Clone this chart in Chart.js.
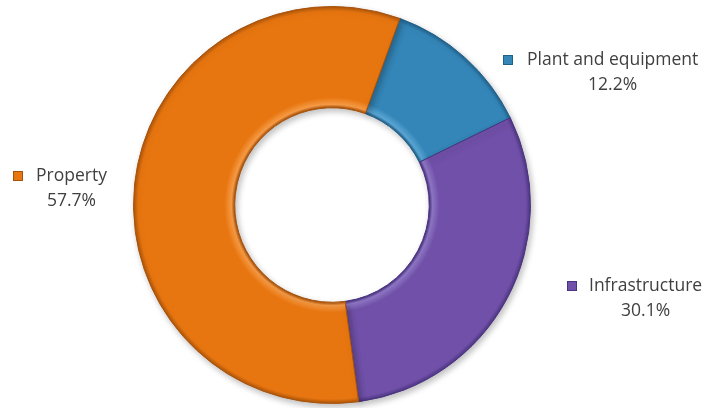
<!DOCTYPE html>
<html>
<head>
<meta charset="utf-8">
<script src="https://cdn.jsdelivr.net/npm/chart.js@4"></script>
<style>
    html, body { margin: 0; padding: 0; background: #ffffff; }
    #wrap { width: 711px; height: 408px; }
</style>
</head>
<body>
<div id="wrap"><canvas id="assetChart"></canvas></div>
<script>
const categories = ['Plant and equipment', 'Infrastructure', 'Property'];
const shares = [12.2, 30.1, 57.7];
const sliceColors = ['#3486b8', '#7050a8', '#e87610'];
const edgeColors = ['#1f5f8a', '#4a3380', '#a8520a'];
const highlightColors = ['#5aa6d4', '#9078c8', '#f59a45'];

// where each caption sits: marker left, text left, middle of the name line
const captionSpots = [
    { marker: 503, text: 527, y: 60 },
    { marker: 567, text: 589, y: 286 },
    { marker: 13, text: 36, y: 176 },
];

const CUTOUT = 0.49;

function ringGradient(context, i) {
    const chart = context.chart;
    const area = chart.chartArea;
    if (!area) return sliceColors[i];
    const cx = (area.left + area.right) / 2;
    const cy = (area.top + area.bottom) / 2;
    const r = Math.min(area.right - area.left, area.bottom - area.top) / 2;
    const g = chart.ctx.createRadialGradient(cx, cy, r * CUTOUT, cx, cy, r);
    g.addColorStop(0, edgeColors[i]);
    g.addColorStop(0.03, highlightColors[i]);
    g.addColorStop(0.1, sliceColors[i]);
    g.addColorStop(0.95, sliceColors[i]);
    g.addColorStop(1, edgeColors[i]);
    return g;
}

const softShadow = {
    id: 'softShadow',
    beforeDatasetsDraw(chart) {
        const ctx = chart.ctx;
        ctx.save();
        ctx.shadowColor = 'rgba(0, 0, 0, 0.25)';
        ctx.shadowBlur = 6;
        ctx.shadowOffsetX = 2;
        ctx.shadowOffsetY = 3;
    },
    afterDatasetsDraw(chart) {
        chart.ctx.restore();
    },
};

const captions = {
    id: 'captions',
    afterDraw(chart) {
        const ctx = chart.ctx;
        ctx.save();
        ctx.font = '17.5px "Open Sans", sans-serif';
        ctx.textBaseline = 'middle';
        categories.forEach((name, i) => {
            const spot = captionSpots[i];
            // small square marker
            ctx.fillStyle = sliceColors[i];
            ctx.strokeStyle = edgeColors[i];
            ctx.lineWidth = 1;
            ctx.fillRect(spot.marker, spot.y - 5, 10, 10);
            ctx.strokeRect(spot.marker + 0.5, spot.y - 4.5, 9, 9);

            ctx.fillStyle = '#404040';
            ctx.textAlign = 'left';
            ctx.fillText(name, spot.text, spot.y);
            const w = ctx.measureText(name).width;
            ctx.textAlign = 'center';
            ctx.fillText(shares[i].toFixed(1) + '%', spot.text + w / 2, spot.y + 25);
        });
        ctx.restore();
    },
};

const ctxAssets = document.getElementById('assetChart').getContext('2d');
const assetChart = new Chart(ctxAssets, {
    type: 'doughnut',
    data: {
        labels: categories,
        datasets: [
            {
                data: shares,
                backgroundColor: (context) => ringGradient(context, context.dataIndex),
                borderColor: edgeColors,
                borderWidth: 1,
            },
        ],
    },
    options: {
        responsive: true,
        maintainAspectRatio: false,
        animation: false,
        rotation: 20,
        cutout: CUTOUT * 100 + '%',
        layout: {
            padding: { left: 133, right: 180, top: 6, bottom: 4 },
        },
        plugins: {
            legend: { display: false },
            tooltip: { enabled: false },
        },
    },
    plugins: [softShadow, captions],
});
</script>
</body>
</html>
